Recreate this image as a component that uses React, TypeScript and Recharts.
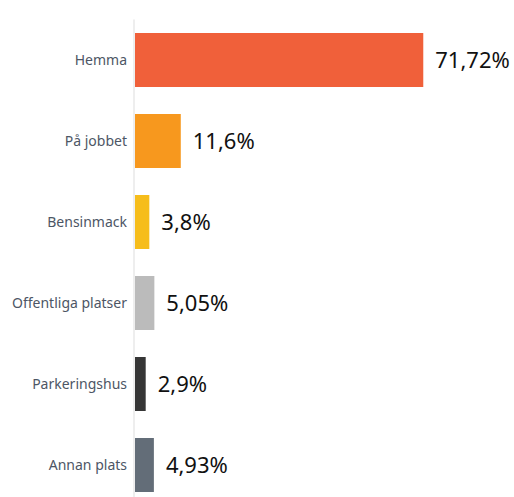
import { BarChart, Bar, XAxis, YAxis, Cell, LabelList } from "recharts";

const places = [
  "Hemma",
  "På jobbet",
  "Bensinmack",
  "Offentliga platser",
  "Parkeringshus",
  "Annan plats",
];
const shares = [71.72, 11.6, 3.8, 5.05, 2.9, 4.93];
const barColors = ["#f0603a", "#f7981e", "#f6bd1b", "#bbbbbb", "#363636", "#636d78"];

const data = places.map((place, i) => ({ place, share: shares[i] }));

const formatShare = (v: number) => `${String(v).replace(".", ",")}%`;

const App = () => {
  return (
    <div
      style={{
        position: "fixed",
        left: 0,
        top: 0,
        width: 514,
        height: 497,
        overflow: "hidden",
        background: "#fff",
      }}
    >
      <BarChart
        width={514}
        height={510}
        data={data}
        layout="vertical"
        margin={{ top: 19.5, right: 17, bottom: 4.5, left: 0 }}
        barCategoryGap="16.67%"
      >
        <XAxis type="number" domain={[0, 90]} hide />
        <YAxis
          type="category"
          dataKey="place"
          width={134}
          tickLine={false}
          tickSize={0}
          tickMargin={7}
          axisLine={{ stroke: "#eeeeee", strokeWidth: 2 }}
          tick={{ fill: "#4d5665", fontSize: 14, fontFamily: "Noto Sans" }}
        />
        <Bar dataKey="share" isAnimationActive={false}>
          {data.map((_, i) => (
            <Cell key={`cell-${i}`} fill={barColors[i]} />
          ))}
          <LabelList
            dataKey="share"
            position="right"
            offset={12}
            formatter={(v: number) => formatShare(v)}
            style={{ fill: "#111", fontSize: 22, fontFamily: "Noto Sans" }}
          />
        </Bar>
      </BarChart>
    </div>
  );
};

export default App;
